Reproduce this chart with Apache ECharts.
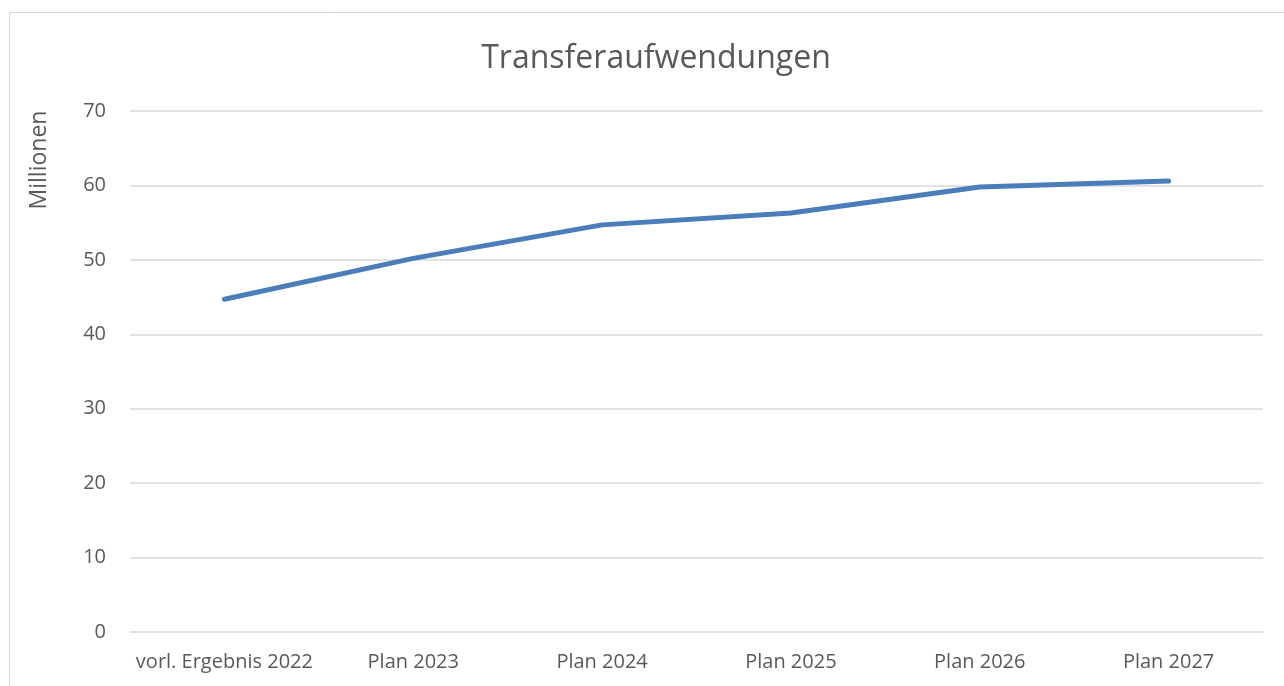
<!DOCTYPE html>
<html>
<head>
<meta charset="utf-8">
<script src="https://cdn.jsdelivr.net/npm/echarts@6/dist/echarts.min.js"></script>
<style>html,body{margin:0;padding:0;background:#fff}#c{width:1284px;height:686px}</style>
</head>
<body>
<div id="c"></div>
<script>
const categories = ['vorl. Ergebnis 2022', 'Plan 2023', 'Plan 2024', 'Plan 2025', 'Plan 2026', 'Plan 2027'];
const values = [44.7, 50.2, 54.7, 56.3, 59.8, 60.6];
const titleText = 'Transferaufwendungen';
const yAxisName = 'Millionen';

const chart = echarts.init(document.getElementById('c'));
const font = '"Open Sans", "Liberation Sans", sans-serif';
chart.setOption({
  animation: false,
  title: {
    text: titleText, left: 651, top: 38, textAlign: 'center',
    textStyle: { fontFamily: font, fontSize: 32, fontWeight: 'normal', color: '#595959' }
  },
  graphic: [
    { type: 'rect', shape: { x: 9.5, y: 12.5, width: 1280, height: 700 },
      style: { fill: 'none', stroke: '#d9d9d9', lineWidth: 1 }, silent: true },
    { type: 'text', x: 39, y: 160, rotation: Math.PI / 2,
      style: { text: yAxisName, fontFamily: font, fontSize: 23, fill: '#595959',
               align: 'center', verticalAlign: 'middle' } }
  ],
  grid: { left: 130, right: 21, top: 111, bottom: 54 },
  xAxis: {
    type: 'category', data: categories, boundaryGap: true,
    axisLine: { show: false }, axisTick: { show: false },
    axisLabel: { fontFamily: font, fontSize: 20, color: '#595959', margin: 20, interval: 0 }
  },
  yAxis: {
    type: 'value', min: 0, max: 70, interval: 10,
    axisLine: { show: false }, axisTick: { show: false },
    splitLine: { lineStyle: { color: '#d9d9d9', width: 1.5 } },
    axisLabel: { fontFamily: font, fontSize: 20, color: '#595959', margin: 24 }
  },
  series: [{
    type: 'line', data: values, showSymbol: false, symbol: 'none',
    lineStyle: { color: '#4a7ebb', width: 5, cap: 'round', join: 'round' }
  }]
});
</script>
</body>
</html>
